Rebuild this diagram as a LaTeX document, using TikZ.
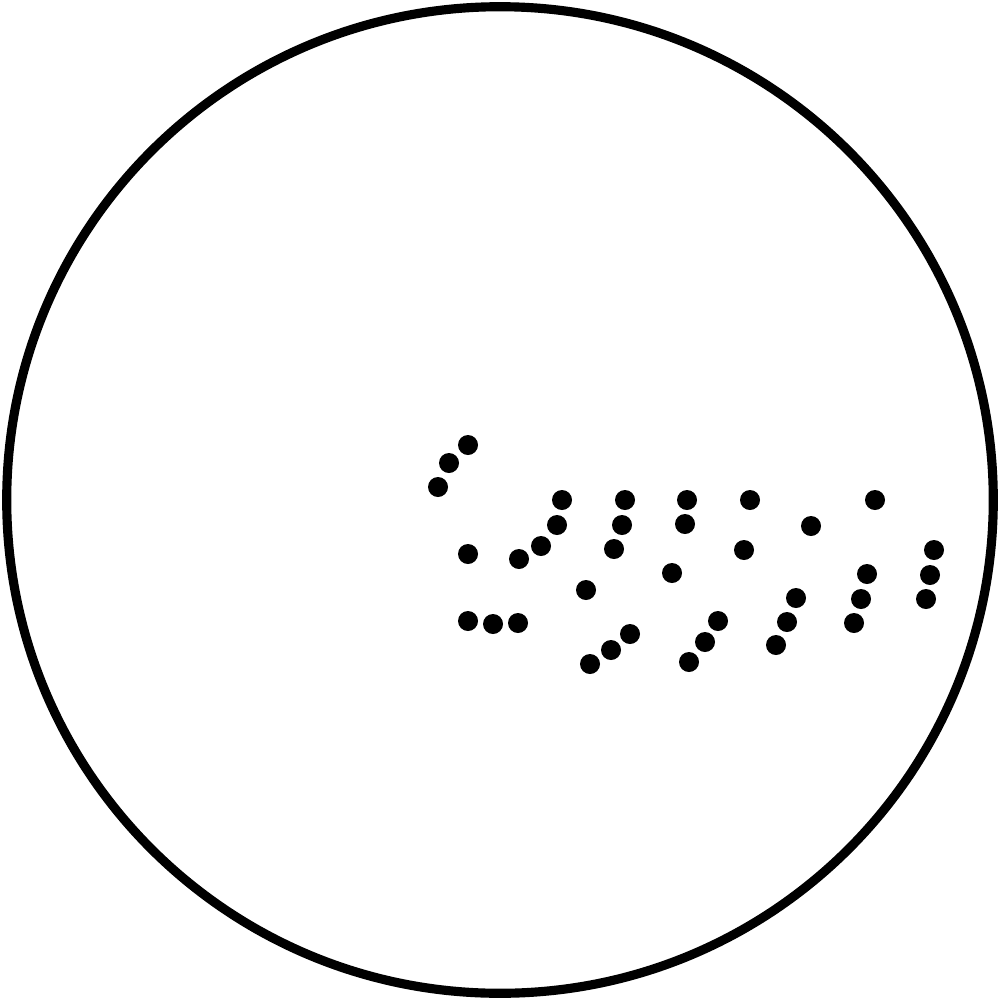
\documentclass[tikz,border=0pt]{standalone}
\usepackage{tikz}
\usetikzlibrary{positioning}
\tikzset{circ/.style = {fill, circle, inner sep = 0, minimum size = 2mm}}
\begin{document}
\begin{tikzpicture}[x=0.01cm, y=-0.01cm]
      \useasboundingbox (0, 0) rectangle (1000, 1000);
      \draw [line width = 2.6pt] (500, 500) circle [radius = 4.93cm];
      \foreach \x/\y [count=\i] in {468/445, 449/463, 438/487,
          562/500, 625/500, 687/500, 750/500, 875/500,
          557/525, 622/525, 685/524, 811/526,
          541/546, 614/549, 468/554, 519/559, 744/550, 934/550,
          672/573, 867/574, 930/575,
          586/590, 796/598, 861/599, 926/599,
          468/621, 493/624, 518/623, 718/621, 787/622, 854/623,
          630/634, 611/650, 590/664, 705/642, 689/662, 776/645} {
        \node [circ] (dot\i) at (\x, \y) {};
      }
    \end{tikzpicture}
\end{document}
